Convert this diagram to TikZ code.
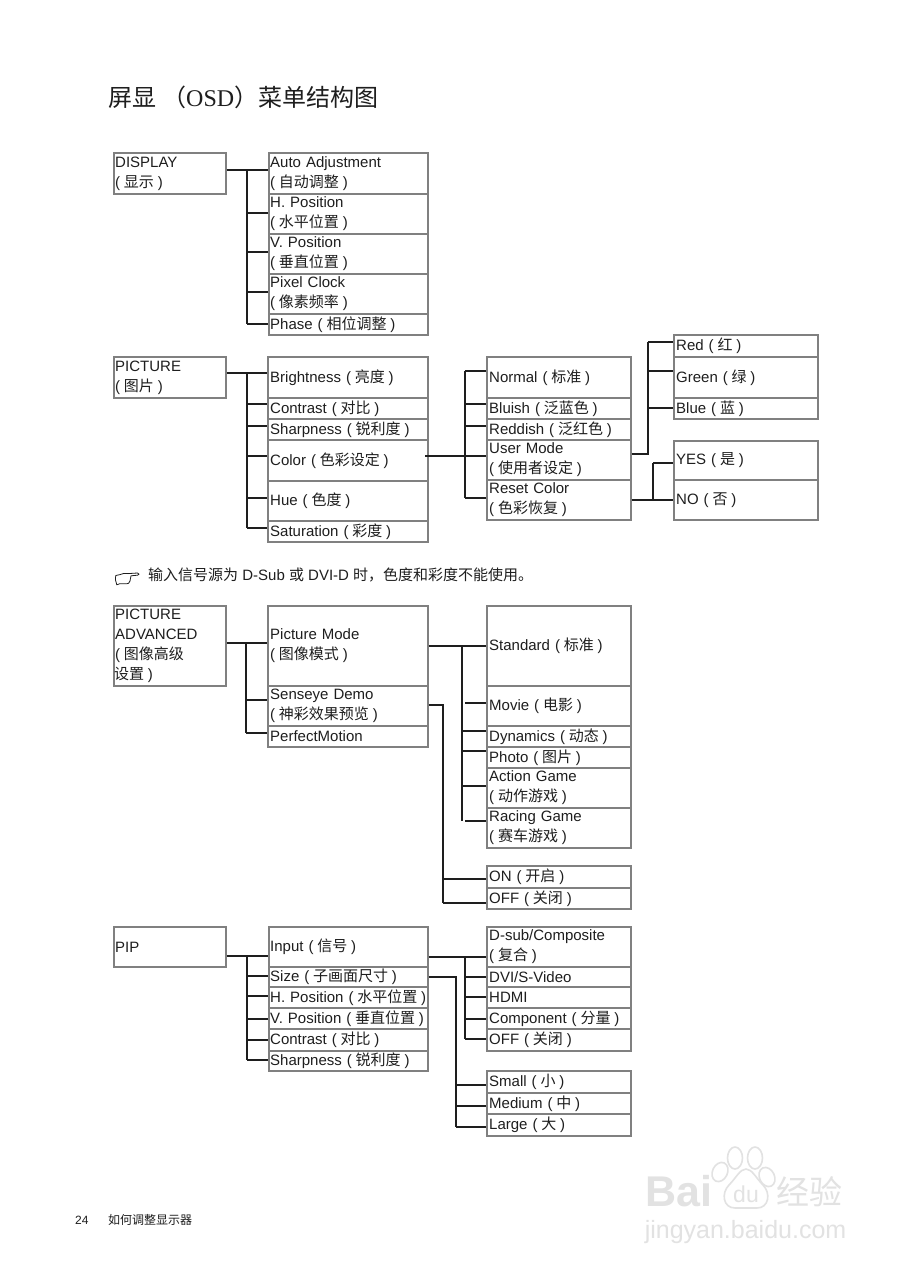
\documentclass[tikz,border=0pt]{standalone}
\usepackage{fontspec}
\setmainfont{Liberation Sans}
\newfontfamily\cjk{Noto Sans CJK SC}
\newfontfamily\titleserif{Liberation Serif}
\newcommand{\cn}[1]{{\cjk #1}}
\newcommand{\cm}[1]{\hspace{-1.2pt}{\cjk #1}\hspace{-1.2pt}}
\definecolor{ink}{HTML}{1E1E1E}
\definecolor{boxline}{HTML}{808080}
\definecolor{wm}{HTML}{E2E2E2}
\def\tsep{1.2}
\tikzset{
  mbox/.style={draw=boxline,line width=1.1pt,inner ysep=0pt,align=left,text=ink,
    font=\fontsize{15}{20}\selectfont,anchor=center},
  conn/.style={draw=ink,line width=1.5pt,line cap=butt},
  plain/.style={inner sep=0pt,text=ink,anchor=west},
  mark text/.style={inner sep=0pt,text=wm,anchor=center}
}
\newcommand{\bx}[6]{%
  \pgfmathsetlengthmacro\bxh{(#5-#3)*1pt}%
  \pgfmathsetlengthmacro\bxt{(#4-#2-2*\tsep)*1pt}%
  \node[mbox,inner xsep=\tsep pt,text width=\bxt,minimum height=\bxh] (#1) at ({(#2+#4)/2},{(#3+#5)/2}) {#6};}
% branch from a bus coordinate to a node's west side, at height #3
\newcommand{\tap}[3]{\draw[conn] (#1 |- 0,#3) -- (#2.west |- 0,#3);}
\begin{document}
\begin{tikzpicture}[x=1pt,y=-1pt]
\useasboundingbox (0,0) rectangle (904,1280);
\fill[white] (0,0) rectangle (904,1280);

% title
\node[plain,font=\fontsize{24}{28}\selectfont] (title) at (108,97) {\cn{屏显}\hspace{6pt}\cn{（}{\titleserif OSD}\cn{）菜单结构图}};

% ---------- DISPLAY
\bx{dsp}{114}{153}{226}{194}{DISPLAY\\( \cm{显示} )}
\bx{d1}{269}{153}{428}{194}{Auto Adjustment\\( \cm{自动调整} )}
\bx{d2}{269}{194}{428}{234}{H. Position\\( \cm{水平位置} )}
\bx{d3}{269}{234}{428}{274}{V. Position\\( \cm{垂直位置} )}
\bx{d4}{269}{274}{428}{314}{Pixel Clock\\( \cm{像素频率} )}
\bx{d5}{269}{314}{428}{335}{Phase ( \cm{相位调整} )}
\coordinate (dbus) at (247,170);
\draw[conn] (dsp.east |- dbus) -- (d1.west |- dbus);
\draw[conn] (dbus) -- (247,324);
\tap{dbus}{d2}{213} \tap{dbus}{d3}{252} \tap{dbus}{d4}{292} \tap{dbus}{d5}{324}

% ---------- PICTURE
\bx{pic}{114}{357}{226}{398}{PICTURE\\( \cm{图片} )}
\def\tsep{2.2}
\bx{p1}{268}{357}{428}{398}{Brightness ( \cm{亮度} )}
\bx{p2}{268}{398}{428}{419}{Contrast ( \cm{对比} )}
\bx{p3}{268}{419}{428}{440}{Sharpness ( \cm{锐利度} )}
\bx{p4}{268}{440}{428}{481}{Color ( \cm{色彩设定} )}
\bx{p5}{268}{481}{428}{521}{Hue ( \cm{色度} )}
\bx{p6}{268}{521}{428}{542}{Saturation ( \cm{彩度} )}
\coordinate (pbus) at (247,373);
\draw[conn] (pic.east |- pbus) -- (p1.west |- pbus);
\draw[conn] (pbus) -- (247,528);
\tap{pbus}{p2}{404} \tap{pbus}{p3}{426} \tap{pbus}{p4}{456} \tap{pbus}{p5}{498} \tap{pbus}{p6}{528}

\bx{c1}{487}{357}{631}{398}{Normal ( \cm{标准} )}
\bx{c2}{487}{398}{631}{419}{Bluish ( \cm{泛蓝色} )}
\bx{c3}{487}{419}{631}{440}{Reddish ( \cm{泛红色} )}
\bx{c4}{487}{440}{631}{480}{User Mode\\( \cm{使用者设定} )}
\bx{c5}{487}{480}{631}{520}{Reset Color\\( \cm{色彩恢复} )}
\coordinate (cbus) at (465,371);
\coordinate (cin) at (425,456);
\draw[conn] (cin) -- (c4.west |- cin);
\draw[conn] (cbus) -- (465,498);
\tap{cbus}{c1}{371} \tap{cbus}{c2}{404} \tap{cbus}{c3}{426} \tap{cbus}{c5}{498}

\bx{r1}{674}{335}{818}{357}{Red ( \cm{红} )}
\bx{r2}{674}{357}{818}{398}{Green ( \cm{绿} )}
\bx{r3}{674}{398}{818}{419}{Blue ( \cm{蓝} )}
\coordinate (rbus) at (648,342);
\draw[conn] (c4.east |- 0,454) -- (648,454) -- (rbus);
\tap{rbus}{r1}{342} \tap{rbus}{r2}{371} \tap{rbus}{r3}{408}

\bx{y1}{674}{441}{818}{480}{YES ( \cm{是} )}
\bx{y2}{674}{480}{818}{520}{NO ( \cm{否} )}
\coordinate (ybus) at (653,463);
\draw[conn] (c5.east |- 0,500) -- (y2.west |- 0,500);
\draw[conn] (653,500) -- (ybus);
\tap{ybus}{y1}{463}

% ---------- note
\draw[draw=ink,line width=.8pt,line join=round,fill=white]
  (115.8,575.5) -- (120,574.6) .. controls (122.5,573.2) and (125,573.2) .. (128,573.6)
  -- (137.5,573) .. controls (139.6,573.4) and (139.6,575) .. (137.5,575.2)
  -- (131,575.8) -- (130,581) .. controls (129.6,583) and (128,584) .. (126.5,583.8)
  -- (119.5,583.8) -- (116.8,584.8) .. controls (115.3,582) and (115.2,578) .. (115.8,575.5) -- cycle;
\node[plain,font=\fontsize{15}{18}\selectfont] (note) at (148,574.5)
  {\cn{输入信号源为} D-Sub \cn{或} DVI-D \cn{时，色度和彩度不能使用。}};

% ---------- PICTURE ADVANCED
\def\tsep{1.2}
\bx{adv}{114}{606}{226}{686}{PICTURE\\ADVANCED\\( \cm{图像高级}\\\cm{设置} )}
\def\tsep{2.2}
\bx{a1}{268}{606}{428}{686}{Picture Mode\\( \cm{图像模式} )}
\bx{a2}{268}{686}{428}{726}{Senseye Demo\\( \cm{神彩效果预览} )}
\bx{a3}{268}{726}{428}{747}{PerfectMotion}
\coordinate (abus) at (246,643);
\draw[conn] (adv.east |- abus) -- (a1.west |- abus);
\draw[conn] (abus) -- (246,733);
\tap{abus}{a2}{700} \tap{abus}{a3}{733}

\bx{m1}{487}{606}{631}{686}{Standard ( \cm{标准} )}
\bx{m2}{487}{686}{631}{726}{Movie ( \cm{电影} )}
\bx{m3}{487}{726}{631}{747}{Dynamics ( \cm{动态} )}
\bx{m4}{487}{747}{631}{768}{Photo ( \cm{图片} )}
\bx{m5}{487}{768}{631}{808}{Action Game\\( \cm{动作游戏} )}
\bx{m6}{487}{808}{631}{848}{Racing Game\\( \cm{赛车游戏} )}
\coordinate (mbus) at (462,646);
\draw[conn] (a1.east |- mbus) -- (m1.west |- mbus);
\draw[conn] (mbus) -- (462,821);
\coordinate (mgap) at (465,646);
\tap{mgap}{m2}{703} \tap{mbus}{m3}{731} \tap{mbus}{m4}{751} \tap{mbus}{m5}{786} \tap{mgap}{m6}{821}

\bx{o1}{487}{866}{631}{888}{ON ( \cm{开启} )}
\bx{o2}{487}{888}{631}{909}{OFF ( \cm{关闭} )}
\coordinate (obus) at (443,705);
\draw[conn] (a2.east |- obus) -- (obus) -- (443,903);
\tap{obus}{o1}{879} \tap{obus}{o2}{903}

% ---------- PIP
\def\tsep{1.2}
\bx{pip}{114}{927}{226}{967}{PIP}
\bx{i1}{269}{927}{428}{967}{Input ( \cm{信号} )}
\bx{i2}{269}{967}{428}{987}{Size ( \cm{子画面尺寸} )}
\bx{i3}{269}{987}{428}{1008}{H. Position ( \cm{水平位置} )}
\bx{i4}{269}{1008}{428}{1029}{V. Position ( \cm{垂直位置} )}
\bx{i5}{269}{1029}{428}{1051}{Contrast ( \cm{对比} )}
\bx{i6}{269}{1051}{428}{1071}{Sharpness ( \cm{锐利度} )}
\coordinate (ibus) at (247,956);
\draw[conn] (pip.east |- ibus) -- (i1.west |- ibus);
\draw[conn] (ibus) -- (247,1060);
\tap{ibus}{i2}{976} \tap{ibus}{i3}{996} \tap{ibus}{i4}{1019} \tap{ibus}{i5}{1040} \tap{ibus}{i6}{1060}

\def\tsep{2.2}
\bx{s1}{487}{927}{631}{967}{D-sub/Composite\\( \cm{复合} )}
\bx{s2}{487}{967}{631}{987}{DVI/S-Video}
\bx{s3}{487}{987}{631}{1008}{HDMI}
\bx{s4}{487}{1008}{631}{1029}{Component ( \cm{分量} )}
\bx{s5}{487}{1029}{631}{1051}{OFF ( \cm{关闭} )}
\coordinate (sbus) at (465,957);
\draw[conn] (i1.east |- sbus) -- (s1.west |- sbus);
\draw[conn] (sbus) -- (465,1039);
\tap{sbus}{s2}{977} \tap{sbus}{s3}{997} \tap{sbus}{s4}{1019} \tap{sbus}{s5}{1039}

\bx{z1}{487}{1071}{631}{1093}{Small ( \cm{小} )}
\bx{z2}{487}{1093}{631}{1114}{Medium ( \cm{中} )}
\bx{z3}{487}{1114}{631}{1136}{Large ( \cm{大} )}
\coordinate (zbus) at (456,977);
\draw[conn] (i2.east |- zbus) -- (zbus) -- (456,1127);
\tap{zbus}{z1}{1085} \tap{zbus}{z2}{1106} \tap{zbus}{z3}{1127}

% ---------- footer
\node[plain,font=\fontsize{12}{14}\selectfont] (pageno) at (75,1220) {24};
\node[plain,font=\fontsize{12}{14}\selectfont] (foot) at (108,1220) {\cn{如何调整显示器}};

% ---------- watermark
\begin{scope}[draw=wm,line width=1.6pt,fill=none]
  \draw[rotate around={-25:(720,1172)}] (720,1172) ellipse (7.5 and 10);
  \draw (735,1158) ellipse (7.5 and 11);
  \draw (755,1158) ellipse (7.5 and 11);
  \draw[rotate around={25:(767,1177)}] (767,1177) ellipse (7.5 and 10);
  \draw (746,1169) .. controls (752,1169) and (756,1178) .. (763,1185)
    .. controls (771,1193) and (769,1208) .. (757,1208)
    -- (735,1208) .. controls (723,1208) and (721,1193) .. (729,1185)
    .. controls (736,1178) and (740,1169) .. (746,1169) -- cycle;
\end{scope}
\node[mark text,font=\fontsize{43}{43}\bfseries] (wmbai) at (679,1191) {Bai};
\node[mark text,font=\fontsize{23}{23}\selectfont] (wmdu) at (746,1194) {du};
\node[mark text,font=\fontsize{33}{33}\selectfont] (wmjy) at (809,1192) {\cn{经验}};
\node[mark text,font=\fontsize{25}{25}\selectfont] (wmurl) at (745.5,1232) {jingyan.baidu.com};
\end{tikzpicture}
\end{document}
